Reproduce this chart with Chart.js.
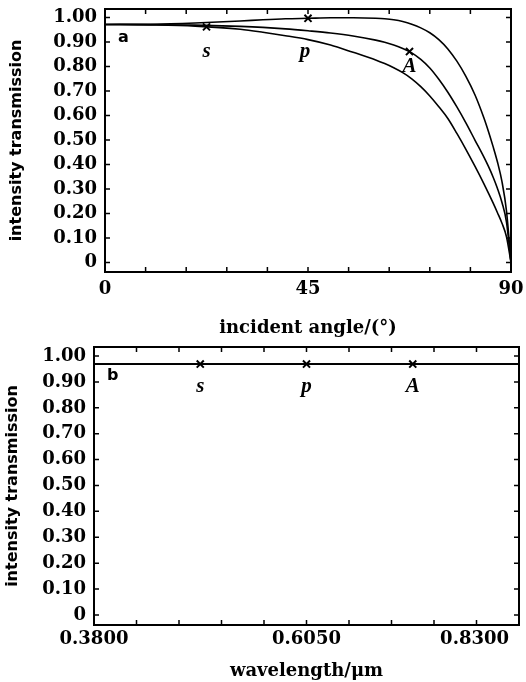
<!DOCTYPE html>
<html>
<head>
<meta charset="utf-8">
<script src="https://cdn.jsdelivr.net/npm/chart.js"></script>
<style>
  html, body { margin: 0; padding: 0; background: #fff; }
  #wrap { position: relative; width: 526px; height: 682px; }
  canvas { position: absolute; left: 0; }
  #chartA { top: 0; }
  #chartB { top: 335px; }
</style>
</head>
<body>
<div id="wrap">
  <canvas id="chartA" width="526" height="340"></canvas>
  <canvas id="chartB" width="526" height="347"></canvas>
</div>
<script>
// (a) transmission against incident angle
const angles = [0, 10, 20, 30, 35, 40, 45, 50, 55, 60, 62, 64, 66, 68, 70, 72, 74, 76, 78, 80, 82, 84, 85, 86, 87, 88, 89, 90];
const pTrans = [0.972, 0.973, 0.978, 0.986, 0.991, 0.995, 0.997, 0.999, 0.999, 0.997, 0.995, 0.991, 0.984, 0.973, 0.958, 0.938, 0.910, 0.872, 0.822, 0.760, 0.685, 0.590, 0.535, 0.475, 0.410, 0.330, 0.210, 0];
const aTrans = [0.972, 0.971, 0.969, 0.964, 0.960, 0.954, 0.946, 0.937, 0.925, 0.908, 0.899, 0.888, 0.874, 0.856, 0.829, 0.794, 0.748, 0.695, 0.635, 0.570, 0.500, 0.430, 0.392, 0.350, 0.302, 0.245, 0.165, 0];
const sTrans = [0.972, 0.970, 0.965, 0.952, 0.940, 0.926, 0.910, 0.888, 0.858, 0.827, 0.812, 0.795, 0.775, 0.750, 0.718, 0.680, 0.636, 0.588, 0.527, 0.462, 0.393, 0.321, 0.283, 0.244, 0.203, 0.160, 0.105, 0];
const angleTicks = [0, 9, 18, 27, 36, 45, 54, 63, 72, 81, 90];
const angleLabels = [0, 45, 90];
const markNames = ['s', 'p', 'A'];
const markAngles = [22.5, 45, 67.5];
const markAngleVals = [0.962, 0.997, 0.861];

// (b) transmission against wavelength
const waves = [0.38, 0.4925, 0.605, 0.7175, 0.83];
const sWave = [0.969, 0.969, 0.969, 0.969, 0.969];
const pWave = [0.969, 0.969, 0.969, 0.969, 0.969];
const aWave = [0.969, 0.969, 0.969, 0.969, 0.969];
const waveTicks = [0.38, 0.425, 0.47, 0.515, 0.56, 0.605, 0.65, 0.695, 0.74, 0.785, 0.83];
const waveLabels = [0.38, 0.605, 0.83];
const markWaves = [0.4925, 0.605, 0.7175];
const markWaveVals = [0.969, 0.969, 0.969];

const transTicks = [0, 0.1, 0.2, 0.3, 0.4, 0.5, 0.6, 0.7, 0.8, 0.9, 1.0];

const tickFont = { family: 'DejaVu Serif', size: 18, weight: 'bold' };

// box, inward ticks and the small texts inside the plot
const framePlugin = {
  id: 'frame',
  afterDraw(chart, args, opts) {
    const { ctx, chartArea: ca } = chart;
    const x = chart.scales.x, y = chart.scales.y;
    ctx.save();
    ctx.strokeStyle = '#000';
    ctx.lineWidth = 2;
    ctx.strokeRect(ca.left, ca.top, ca.right - ca.left, ca.bottom - ca.top);
    ctx.lineWidth = 1.5;
    ctx.beginPath();
    x.ticks.forEach(t => {
      const px = x.getPixelForValue(t.value);
      ctx.moveTo(px, ca.bottom); ctx.lineTo(px, ca.bottom - 5);
      ctx.moveTo(px, ca.top); ctx.lineTo(px, ca.top + 5);
    });
    y.ticks.forEach(t => {
      const py = y.getPixelForValue(t.value);
      ctx.moveTo(ca.left, py); ctx.lineTo(ca.left + 5, py);
      ctx.moveTo(ca.right, py); ctx.lineTo(ca.right - 5, py);
    });
    ctx.stroke();

    ctx.fillStyle = '#000';
    ctx.font = 'bold 16px "DejaVu Sans"';
    ctx.textAlign = 'left';
    ctx.textBaseline = 'middle';
    ctx.fillText(opts.letter, ca.left + 13, ca.top + 29);

    ctx.font = 'italic bold 21px "Liberation Serif"';
    ctx.textAlign = 'center';
    ctx.textBaseline = 'alphabetic';
    markNames.forEach((n, i) => {
      const px = x.getPixelForValue(opts.xs[i]) + opts.dx[i];
      const py = y.getPixelForValue(opts.ys[i]) + opts.dy[i];
      ctx.fillText(n, px, py);
    });

    if (opts.endLabel) {
      ctx.font = 'bold 18px "DejaVu Serif"';
      ctx.textAlign = 'right';
      ctx.textBaseline = 'middle';
      ctx.fillText(opts.endLabel, ca.right - 10, x.top + 4 + 10.8);
    }
    ctx.restore();
  }
};

function pts(xs, ys) {
  return xs.map((v, i) => ({ x: v, y: ys[i] }));
}

function curve(data) {
  return {
    data: data,
    borderColor: '#000',
    borderWidth: 1.6,
    pointRadius: 0,
    fill: false,
    cubicInterpolationMode: 'monotone'
  };
}

function marks(data) {
  return {
    data: data,
    showLine: false,
    pointStyle: 'crossRot',
    pointRadius: 5,
    borderColor: '#000',
    borderWidth: 2
  };
}

function makeChart(id, cfg) {
  return new Chart(document.getElementById(id).getContext('2d'), {
    type: 'line',
    data: { datasets: cfg.datasets },
    plugins: [framePlugin],
    options: {
      responsive: false,
      animation: false,
      layout: { padding: cfg.padding },
      plugins: {
        legend: { display: false },
        tooltip: { enabled: false },
        frame: cfg.frame
      },
      scales: {
        x: {
          type: 'linear',
          min: cfg.xMin,
          max: cfg.xMax,
          afterBuildTicks: s => { s.ticks = cfg.xTicks.map(v => ({ value: v })); },
          afterFit: s => {
            s.height = cfg.xHeight;
            s.paddingLeft = 0;
            s.paddingRight = 0;
          },
          grid: { display: false, drawTicks: false },
          border: { display: false },
          ticks: {
            font: tickFont,
            color: '#000',
            padding: cfg.xPad,
            autoSkip: false,
            maxRotation: 0,
            callback: cfg.xLabel
          },
          title: {
            display: true,
            text: cfg.xTitle,
            color: '#000',
            font: { family: 'DejaVu Serif', size: 18, weight: 'bold' },
            padding: { top: 0, bottom: cfg.xTitlePad }
          }
        },
        y: {
          type: 'linear',
          min: -0.039,
          max: 1.035,
          afterBuildTicks: s => { s.ticks = transTicks.map(v => ({ value: v })); },
          afterFit: s => {
            s.width = cfg.yWidth;
            s.paddingTop = 0;
            s.paddingBottom = 0;
          },
          grid: { display: false, drawTicks: false },
          border: { display: false },
          ticks: {
            font: tickFont,
            color: '#000',
            padding: 8,
            callback: v => v === 0 ? '0' : v.toFixed(2)
          },
          title: {
            display: true,
            text: 'intensity transmission',
            color: '#000',
            font: { family: 'DejaVu Sans', size: 16, weight: 'bold' },
            padding: { top: cfg.yTitlePad, bottom: 0 }
          }
        }
      }
    }
  });
}

makeChart('chartA', {
  datasets: [
    curve(pts(angles, pTrans)),
    curve(pts(angles, aTrans)),
    curve(pts(angles, sTrans)),
    marks(pts(markAngles, markAngleVals))
  ],
  padding: { top: 9, right: 15, left: 0, bottom: 0 },
  xMin: 0, xMax: 90,
  xTicks: angleTicks,
  xLabel: v => angleLabels.includes(v) ? String(v) : '',
  xHeight: 68, xPad: 7, xTitlePad: 1,
  xTitle: 'incident angle/(°)',
  yWidth: 105, yTitlePad: 7,
  frame: {
    letter: 'a',
    xs: markAngles, ys: markAngleVals,
    dx: [0, -3, 0], dy: [30, 39, 20]
  }
});

makeChart('chartB', {
  datasets: [
    curve(pts(waves, sWave)),
    curve(pts(waves, pWave)),
    curve(pts(waves, aWave)),
    marks(pts(markWaves, markWaveVals))
  ],
  padding: { top: 12, right: 4, left: 0, bottom: 0 },
  xMin: 0.38, xMax: 0.83,
  xTicks: waveTicks,
  xLabel: v => (waveLabels.includes(v) && v !== 0.83) ? v.toFixed(4) : '',
  xHeight: 57, xPad: 4, xTitlePad: 0,
  xTitle: 'wavelength/μm',
  yWidth: 94, yTitlePad: 3,
  frame: {
    letter: 'b',
    xs: markWaves, ys: markWaveVals,
    dx: [0, 0, 0], dy: [28, 28, 28],
    endLabel: '0.8300'
  }
});
</script>
</body>
</html>
